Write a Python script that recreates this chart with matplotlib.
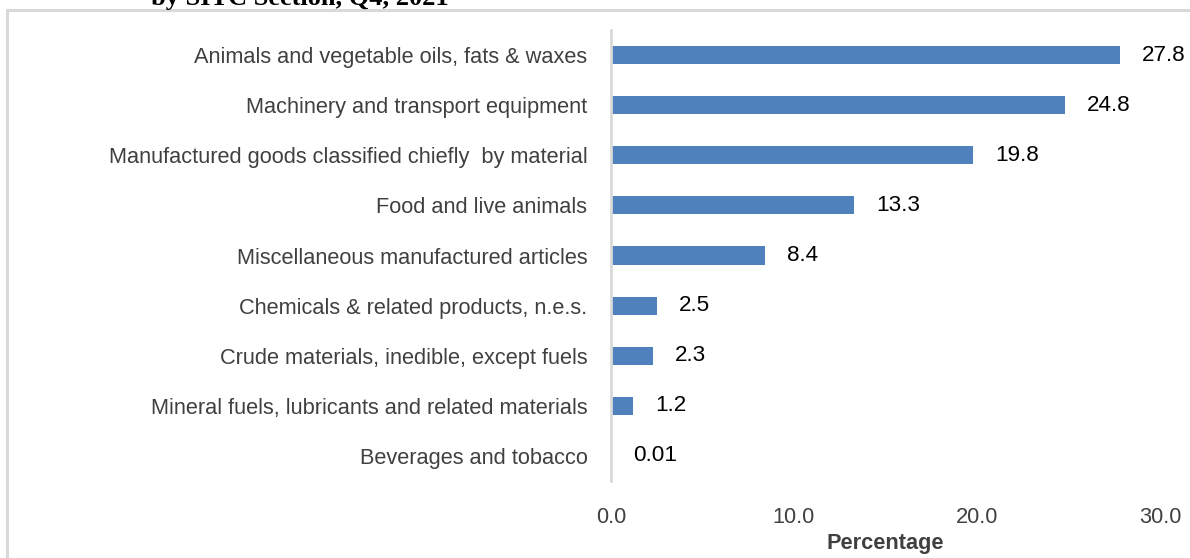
import matplotlib
matplotlib.use('Agg')
import matplotlib.pyplot as plt
from matplotlib.patches import Rectangle

# Datos: participación por sección SITC (porcentaje)
categorias = [
    "Animals and vegetable oils, fats & waxes",
    "Machinery and transport equipment",
    "Manufactured goods classified chiefly  by material",
    "Food and live animals",
    "Miscellaneous manufactured articles",
    "Chemicals & related products, n.e.s.",
    "Crude materials, inedible, except fuels",
    "Mineral fuels, lubricants and related materials",
    "Beverages and tobacco",
]
valores = [27.8, 24.8, 19.8, 13.3, 8.4, 2.5, 2.3, 1.2, 0.01]
etiquetas = ["27.8", "24.8", "19.8", "13.3", "8.4", "2.5", "2.3", "1.2", "0.01"]
ticks_x = [0, 10, 20, 30]

plt.rcParams['font.family'] = ['Liberation Sans', 'DejaVu Sans']
FS = 15.7

W, H = 1190, 558
fig = plt.figure(figsize=(W / 100, H / 100), dpi=100)

# marco gris del gráfico
fig.patches.append(Rectangle((7 / W, -0.1), 1.2, 1 - 10 / H + 0.1,
                             transform=fig.transFigure, fill=False,
                             edgecolor='#d9d9d9', linewidth=2.2))

# título recortado arriba
fig.text(300 / W, 1 - 5 / H, "by SITC Section, Q4, 2021", ha='center', va='baseline',
         fontsize=19, fontweight='bold', family='Liberation Serif', color='black')

ax = fig.add_axes([611 / W, (H - 481) / H, 549 / W, 451 / H])
y = list(range(len(categorias)))
ax.barh(y, valores, height=0.36, color='#4f81bd')
ax.set_ylim(len(categorias) - 0.5, -0.5)
ax.set_xlim(0, 30)
ax.set_yticks(y)
ax.set_yticklabels(categorias)
ax.set_xticks(ticks_x)
ax.set_xticklabels([f"{t:.1f}" for t in ticks_x])

for yi, v, lab in zip(y, valores, etiquetas):
    ax.annotate(lab, (v, yi), xytext=(16, 0), textcoords='offset points',
                ha='left', va='center', fontsize=FS + 0.5, color='black')

for s in ['top', 'right', 'bottom']:
    ax.spines[s].set_visible(False)
ax.spines['left'].set_color('#d9d9d9')
ax.spines['left'].set_linewidth(2)
ax.tick_params(axis='both', length=0, labelsize=FS, labelcolor='#404040')
ax.tick_params(axis='y', pad=17)
ax.tick_params(axis='x', pad=19)
ax.set_xlabel("Percentage", fontsize=FS, fontweight='bold', color='#404040', labelpad=3)

fig.savefig('out.png', dpi=100)
